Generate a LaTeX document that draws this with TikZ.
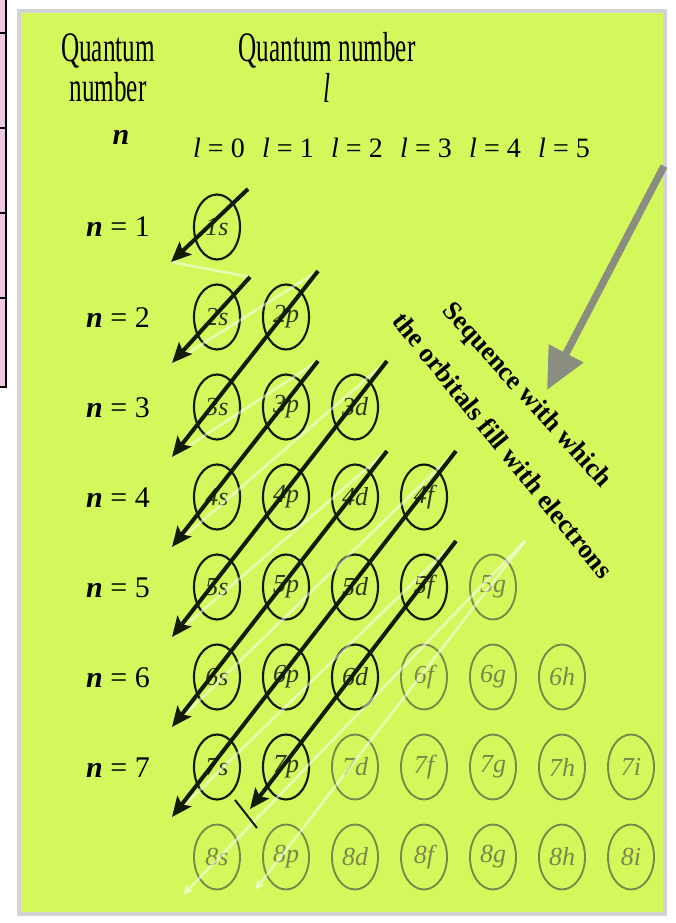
\documentclass[tikz,border=0pt]{standalone}
\usepackage{fontspec}
\setmainfont{Liberation Serif}
\newfontfamily\condfont{Liberation Serif}[FakeStretch=0.6]
\usepackage{tikz}
\usetikzlibrary{calc, positioning, arrows.meta, shapes.geometric}
\definecolor{PanelGreen}{RGB}{212,248,92}
\definecolor{PanelEdge}{RGB}{208,210,214}
\definecolor{TablePink}{RGB}{238,200,222}
\definecolor{FullInk}{RGB}{18,26,8}
\definecolor{FullText}{RGB}{45,55,20}
\definecolor{OpenInk}{RGB}{122,134,74}
\definecolor{SeqGrey}{RGB}{138,142,128}

\begin{document}
\begin{tikzpicture}[
  x=0.75pt, y=-0.75pt,
  headtext/.style={inner sep=0pt, anchor=base, font=\condfont\fontsize{31.5}{36}\selectfont},
  rowtext/.style={inner sep=0pt, anchor=base, font=\fontsize{22.5}{26}\selectfont},
  coltext/.style={inner sep=0pt, anchor=base, font=\fontsize{21}{24}\selectfont},
  orb/.style={ellipse, minimum width=34.5pt, minimum height=48.75pt, inner sep=0pt, font=\itshape\fontsize{19.5}{22}\selectfont},
  fullorb/.style={orb, draw=FullInk, line width=1.6pt, text=FullText},
  openorb/.style={orb, draw=OpenInk, line width=1.4pt, text=OpenInk},
  fillarrow/.style={-{Stealth[length=15pt, width=13pt, inset=3pt]}, line width=3pt, draw=FullInk, fill=FullInk},
  backline/.style={draw=white, draw opacity=0.5, line width=2pt},
  backarrow/.style={backline, -{Stealth[length=8pt, width=7pt]}, fill=white, fill opacity=0.5},
  seqtext/.style={font=\bfseries\fontsize{20}{24}\selectfont, inner sep=0pt},
  seqarrow/.style={-{Triangle[length=31pt, width=28pt]}, line width=5.5pt, draw=SeqGrey, fill=SeqGrey}
]
\useasboundingbox (0,0) rectangle (675,923);
\fill[white] (0,0) rectangle (675,923);
% table edge at the left
\fill[TablePink] (0,0) rectangle (6,387);
\draw[line width=1.2pt] (6,0) -- (6,387) -- (0,387);
\foreach \y in {33,128,213,298} \draw[line width=1pt] (0,\y) -- (6,\y);
% panel
\fill[PanelEdge] (17,9) rectangle (667,916);
\fill[PanelGreen] (21,13) rectangle (663,912);

% headings
\node[headtext] (nhead1) at (108,62) {Quantum};
\node[headtext] (nhead2) at (108,102) {number};
\node[rowtext, font=\bfseries\itshape\fontsize{22.5}{26}\selectfont] (nhead3) at (121,145) {n};
\node[headtext] (lhead1) at (327,62) {Quantum number};
\node[headtext, font=\condfont\itshape\fontsize{31.5}{36}\selectfont] (lhead2) at (327,103) {l};

\foreach \n in {1,...,7}
  \node[rowtext] (nrow\n) at (118,{237+90*(\n-1)}) {\textbf{\textit{n}} = \n};
\foreach \l in {0,...,5}
  \node[coltext] (lcol\l) at ({219+69*\l},158) {\textit{l} = \l};

% orbitals
\foreach \n/\l/\sub in {1/0/s,2/0/s,2/1/p,3/0/s,3/1/p,3/2/d,4/0/s,4/1/p,4/2/d,4/3/f,5/0/s,5/1/p,5/2/d,5/3/f,6/0/s,6/1/p,6/2/d,7/0/s,7/1/p}
  \node[fullorb] (o\n\sub) at ({217+69*\l},{227+90*(\n-1)}) {\n\sub};
\foreach \n/\l/\sub in {5/4/g,6/3/f,6/4/g,6/5/h,7/2/d,7/3/f,7/4/g,7/5/h,7/6/i,8/0/s,8/1/p,8/2/d,8/3/f,8/4/g,8/5/h,8/6/i}
  \node[openorb] (o\n\sub) at ({217+69*\l},{227+90*(\n-1)}) {\n\sub};

% arrow ends
\coordinate (s1) at ($(o1s)+(31,-38)$);
\coordinate (t1) at ($(o1s)+(-46,35)$);
\coordinate (s2) at ($(o2s)+(33,-40)$);
\coordinate (t2) at ($(o2s)+(-45,46)$);
\foreach \k/\first/\last in {3/o2p/o3s,4/o3p/o4s,5/o3d/o5s,6/o4d/o6s,7/o4f/o7s}{
  \coordinate (s\k) at ($(\first)+(32,-46)$);
  \coordinate (t\k) at ($(\last)+(-45,50)$);
}
\coordinate (s8) at ($(o5f)+(32,-46)$);
\coordinate (t8) at ($(o7p)+(-36,42)$);
\coordinate (s9) at ($(o5g)+(32,-46)$);
\coordinate (t9s) at ($(o8s)+(-34,38)$);
\coordinate (t9p) at ($(o8p)+(-31,33)$);

% pale return lines
\foreach \k/\next in {1/2,2/3,3/4,4/5,5/6,6/7,7/8}
  \draw[backline] (t\k) -- (s\next);
\draw[backarrow] (s9) -- (t9s);
\draw[backarrow] (s9) -- (t9p);

% filling arrows
\foreach \k in {1,...,8}
  \draw[fillarrow] (s\k) -- (t\k);
\coordinate (tick1) at ($(o7p)+(-51,33)$);
\coordinate (tick2) at ($(o7p)+(-29,61)$);
\draw[line width=1.5pt, FullInk] (tick1) -- (tick2);

% sequence label
\coordinate (seqfrom) at (664,166);
\coordinate (seqto) at (547,390);
\draw[seqarrow] (seqfrom) -- (seqto);
\node[seqtext, rotate=-48] (seqtop) at (526,396) {Sequence with which};
\node[seqtext, rotate=-51] (seqbottom) at (503,445) {the orbitals fill with electrons};
\end{tikzpicture}
\end{document}
